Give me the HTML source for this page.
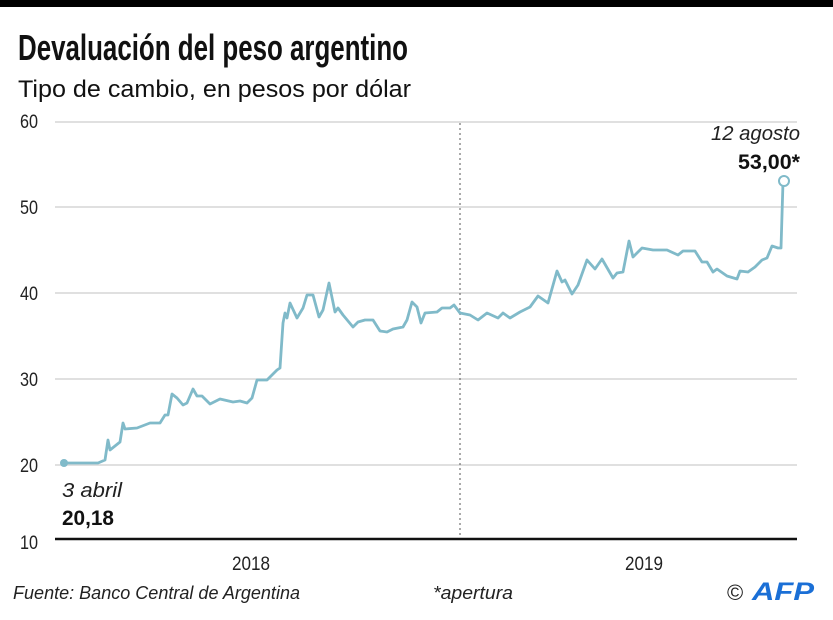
<!DOCTYPE html>
<html><head><meta charset="utf-8"><style>
html,body{margin:0;padding:0;background:#fff;}
svg{display:block;font-family:"Liberation Sans",sans-serif;}
</style></head><body>
<svg width="833" height="620" viewBox="0 0 833 620" xmlns="http://www.w3.org/2000/svg">
<rect x="0" y="0" width="833" height="7" fill="#000"/>
<text x="18" y="60" font-size="36" font-weight="bold" fill="#111" font-family="Liberation Sans Narrow, Liberation Sans, sans-serif" textLength="390" lengthAdjust="spacingAndGlyphs">Devaluación del peso argentino</text>
<text x="18" y="97" font-size="24" fill="#111" textLength="393" lengthAdjust="spacingAndGlyphs">Tipo de cambio, en pesos por dólar</text>
<g stroke="#d6d6d6" stroke-width="1.5">
<line x1="55" y1="122" x2="797" y2="122"/>
<line x1="55" y1="207" x2="797" y2="207"/>
<line x1="55" y1="293" x2="797" y2="293"/>
<line x1="55" y1="379" x2="797" y2="379"/>
<line x1="55" y1="465" x2="797" y2="465"/>
</g>
<line x1="460" y1="123" x2="460" y2="538" stroke="#555" stroke-width="1" stroke-dasharray="2,3"/>
<line x1="55" y1="539" x2="797" y2="539" stroke="#111" stroke-width="2.5"/>
<g font-size="19" fill="#222">
<text x="20" y="128" textLength="18" lengthAdjust="spacingAndGlyphs">60</text>
<text x="20" y="214" textLength="18" lengthAdjust="spacingAndGlyphs">50</text>
<text x="20" y="300" textLength="18" lengthAdjust="spacingAndGlyphs">40</text>
<text x="20" y="386" textLength="18" lengthAdjust="spacingAndGlyphs">30</text>
<text x="20" y="472" textLength="18" lengthAdjust="spacingAndGlyphs">20</text>
<text x="20" y="549" textLength="18" lengthAdjust="spacingAndGlyphs">10</text>
<text x="232" y="570" textLength="38" lengthAdjust="spacingAndGlyphs">2018</text>
<text x="625" y="570" textLength="38" lengthAdjust="spacingAndGlyphs">2019</text>
</g>
<polyline fill="none" stroke="#80bac9" stroke-width="2.8" stroke-linejoin="round" points="64,463 98,463 105,460 108,440 110,450 120,442 123,423 125,429 137,428 150,423 160,423 165,415 168,415 172,394 177,398 183,405 187,403 193,389 197,396 202,396 210,404 220,399 233,402 240,401 247,403 252,398 257,380 267,380 277,370 280,368 283,323 285,313 287,318 290,303 297,318 303,308 307,295 313,295 319,317 323,310 329,283 335,312 338,308 343,315 353,327 358,322 365,320 373,320 380,331 387,332 393,329 403,327 407,320 412,302 417,307 421,323 425,313 437,312 442,308 450,308 454,305 460,313 470,315 478,320 487,313 498,318 503,313 510,318 520,312 530,307 538,296 548,303 557,271 562,282 565,280 572,294 578,285 587,260 595,269 602,259 613,278 617,273 623,272 629,241 633,257 642,248 653,250 667,250 678,255 683,251 695,251 702,262 707,262 713,272 717,269 727,276 737,279 740,271 748,272 755,267 762,260 767,258 772,246 778,248 781,248 783,182"/>
<circle cx="64" cy="463" r="4" fill="#80bac9"/>
<circle cx="784" cy="181" r="5" fill="#fff" stroke="#80bac9" stroke-width="2"/>
<text x="711" y="140" font-size="20" font-style="italic" fill="#222" textLength="89" lengthAdjust="spacingAndGlyphs">12 agosto</text>
<text x="738" y="169" font-size="21" font-weight="bold" fill="#111" textLength="62" lengthAdjust="spacingAndGlyphs">53,00*</text>
<text x="62" y="497" font-size="20" font-style="italic" fill="#222" textLength="60" lengthAdjust="spacingAndGlyphs">3 abril</text>
<text x="62" y="525" font-size="21" font-weight="bold" fill="#111" textLength="52" lengthAdjust="spacingAndGlyphs">20,18</text>
<g font-size="18" font-style="italic" fill="#222">
<text x="13" y="599" textLength="287" lengthAdjust="spacingAndGlyphs">Fuente: Banco Central de Argentina</text>
<text x="433" y="599" textLength="80" lengthAdjust="spacingAndGlyphs">*apertura</text>
</g>
<text x="727" y="600" font-size="22" fill="#222">©</text>
<text x="752" y="600" font-size="25" font-weight="bold" font-style="italic" fill="#1a6fd6" textLength="62" lengthAdjust="spacingAndGlyphs">AFP</text>
</svg>
</body></html>
